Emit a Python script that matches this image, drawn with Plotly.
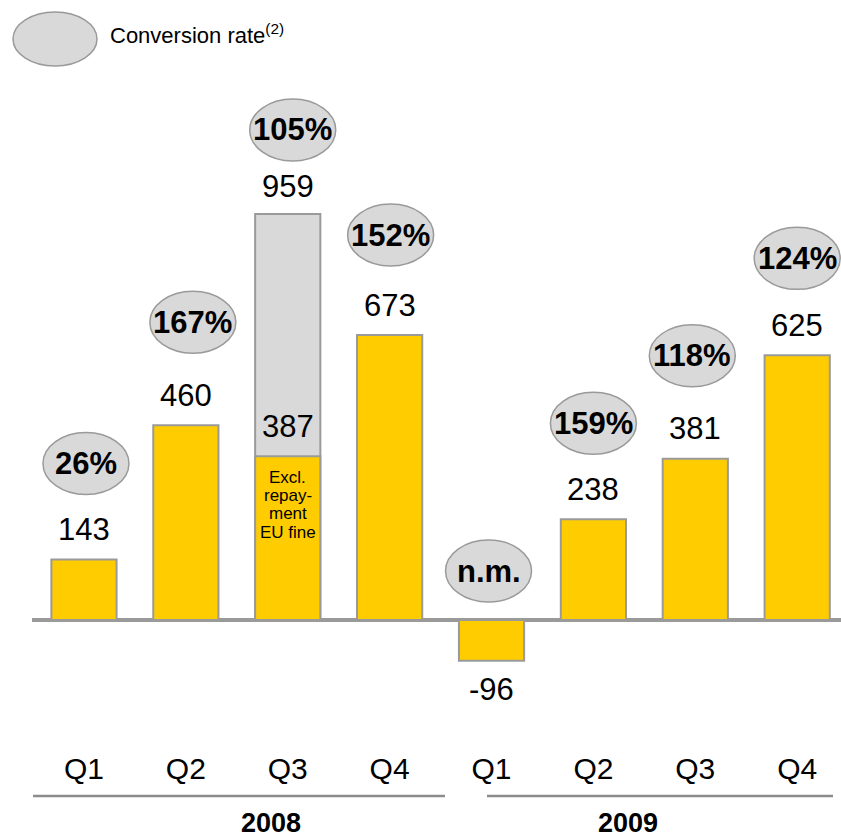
import plotly.graph_objects as go

# ---- data -------------------------------------------------------------
quarters = ["Q1", "Q2", "Q3", "Q4", "Q1", "Q2", "Q3", "Q4"]
years = ["2008", "2009"]
cash_flow = [143, 460, 387, 673, -96, 238, 381, 625]          # yellow bars
reported = [None, None, 959, None, None, None, None, None]     # grey bar (incl. EU fine)
conversion = ["26%", "167%", "105%", "152%", "n.m.", "159%", "118%", "124%"]
fine_note = ["Excl.", "repay-", "ment", "EU fine"]

# ---- layout constants (pixels) -----------------------------------------
W, H = 841, 840
LEFT, RIGHT = 32, 841
TOP, BOTTOM = 70, 745
ZERO_Y = 620
PX_PER_UNIT = 0.4234
X_LO, X_HI = -0.51, 7.43

YELLOW = "#ffcc00"
GREY_FILL = "#d9d9d9"
EDGE = "#9a9a9a"
FONT = "Liberation Sans, Arial, sans-serif"

y_max = (ZERO_Y - TOP) / PX_PER_UNIT
y_min = -(BOTTOM - ZERO_Y) / PX_PER_UNIT


def paper_x(px):
    return (px - LEFT) / (RIGHT - LEFT)


def paper_y(py):
    return (BOTTOM - py) / (BOTTOM - TOP)


idx = list(range(len(quarters)))

fig = go.Figure()
fig.add_bar(x=idx, y=reported, width=0.64, marker=dict(color=GREY_FILL, line=dict(color=EDGE, width=2)),
            hoverinfo="skip")
fig.add_bar(x=idx, y=cash_flow, width=0.64, marker=dict(color=YELLOW, line=dict(color=EDGE, width=2)),
            hoverinfo="skip")

annotations = []
shapes = []

# value labels above (or below) each bar
for i, v in enumerate(cash_flow):
    annotations.append(dict(x=i, y=v, xref="x", yref="y", text=str(v), showarrow=False,
                            yshift=30 if v >= 0 else -29, yanchor="middle",
                            font=dict(size=31, color="#000", family=FONT)))
for i, v in enumerate(reported):
    if v is not None:
        annotations.append(dict(x=i, y=v, xref="x", yref="y", text=str(v), showarrow=False,
                                yshift=27, yanchor="middle",
                                font=dict(size=31, color="#000", family=FONT)))

# note inside the Q3 2008 bar, one line at a time for tight spacing
for k, line in enumerate(fine_note):
    annotations.append(dict(x=2, y=cash_flow[2], xref="x", yref="y", text=line,
                            showarrow=False, yanchor="middle", yshift=-21 - 18.3 * k,
                            font=dict(size=17, color="#000", family=FONT)))

# conversion-rate badges
badge_lift = [96, 103, 84, 100, 49, 96, 103, 97]
badge_dx = [2, 7, 5, 1, -3, 0, -3, 0]
for i, (v, r) in enumerate(zip(cash_flow, conversion)):
    top = max(v, reported[i] or 0, 0)
    lift = badge_lift[i]
    shapes.append(dict(type="circle", xref="x", yref="y", xsizemode="pixel", ysizemode="pixel",
                       xanchor=i, yanchor=top, x0=badge_dx[i] - 43, x1=badge_dx[i] + 43,
                       y0=lift - 31, y1=lift + 31,
                       fillcolor=GREY_FILL, line=dict(color=EDGE, width=1.5), layer="above"))
    annotations.append(dict(x=i, y=top, xref="x", yref="y", text="<b>%s</b>" % r, showarrow=False,
                            yshift=lift, xshift=badge_dx[i], yanchor="middle",
                            font=dict(size=31, color="#000", family=FONT)))

# legend badge
shapes.append(dict(type="circle", xref="paper", yref="paper",
                   x0=paper_x(13), x1=paper_x(97), y0=paper_y(66), y1=paper_y(12),
                   fillcolor=GREY_FILL, line=dict(color=EDGE, width=1.5)))
annotations.append(dict(x=paper_x(108), y=paper_y(34), xref="paper", yref="paper",
                        text="Conversion rate<sup>(2)</sup>", showarrow=False,
                        xanchor="left", yanchor="middle",
                        font=dict(size=22, color="#000", family=FONT)))

# year brackets below the quarter labels
year_spans = [(33, 445), (487, 833)]
for (a, b), yr in zip(year_spans, years):
    shapes.append(dict(type="line", xref="paper", yref="paper",
                       x0=paper_x(a), x1=paper_x(b), y0=paper_y(796), y1=paper_y(796),
                       line=dict(color="#8c8c8c", width=2.5)))
    annotations.append(dict(x=paper_x((a + b) / 2), y=paper_y(823), xref="paper", yref="paper",
                            text="<b>%s</b>" % yr, showarrow=False, yanchor="middle",
                            font=dict(size=27, color="#000", family=FONT)))

fig.update_layout(
    width=W, height=H,
    margin=dict(l=LEFT, r=W - RIGHT, t=TOP, b=H - BOTTOM, pad=0),
    paper_bgcolor="white", plot_bgcolor="white",
    barmode="overlay", showlegend=False,
    xaxis=dict(range=[X_LO, X_HI], tickvals=idx, ticktext=quarters, showgrid=False,
               zeroline=False, showline=False, ticks="", ticklabelstandoff=3,
               tickfont=dict(size=30, color="#000", family=FONT), fixedrange=True),
    yaxis=dict(range=[y_min, y_max], showgrid=False, showticklabels=False,
               zeroline=True, zerolinecolor=EDGE, zerolinewidth=4, showline=False, fixedrange=True),
    shapes=shapes, annotations=annotations,
)

fig.write_html("out.html")
